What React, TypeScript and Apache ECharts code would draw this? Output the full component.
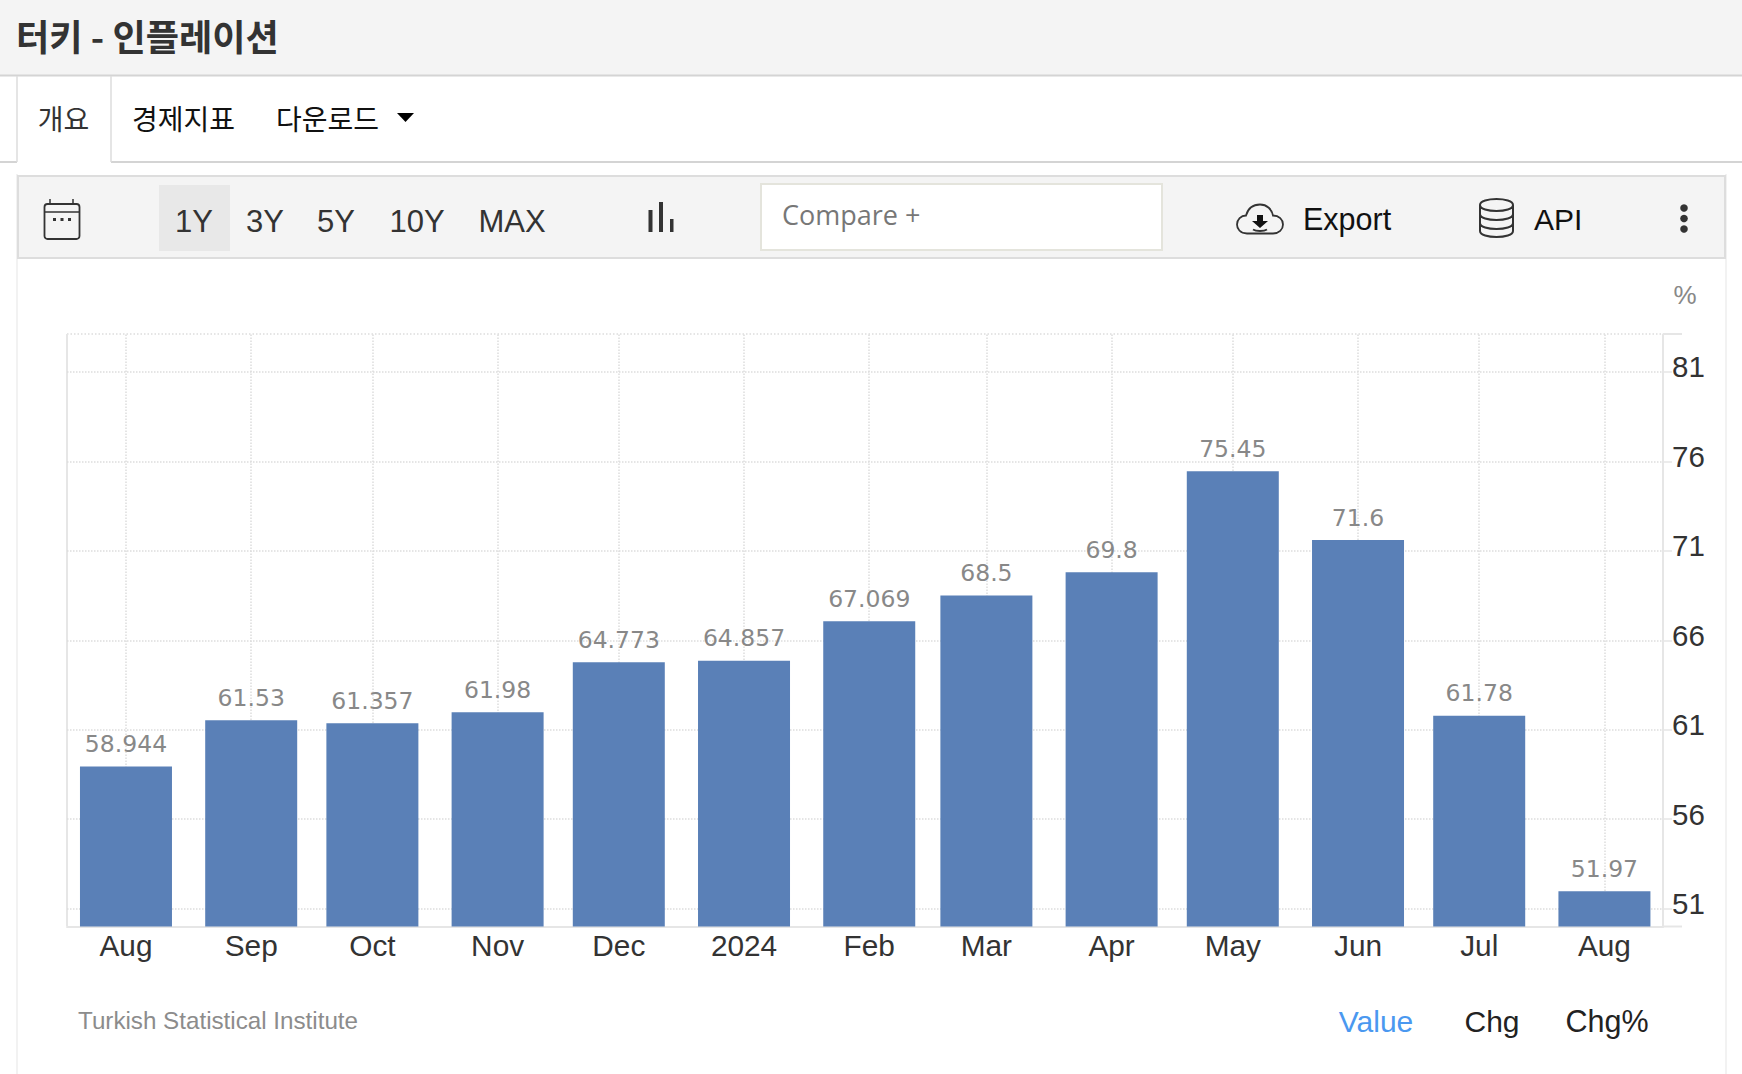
import React, { useEffect, useRef } from "react";
import * as echarts from "echarts";

const pointDates = [
  "2023-08-01", "2023-09-01", "2023-10-01", "2023-11-01", "2023-12-01", "2024-01-01", "2024-02-01",
  "2024-03-01", "2024-04-01", "2024-05-01", "2024-06-01", "2024-07-01", "2024-08-01",
];
const inflation = [58.944, 61.53, 61.357, 61.98, 64.773, 64.857, 67.069, 68.5, 69.8, 75.45, 71.6, 61.78, 51.97];
const xTickLabels = ["Aug", "Sep", "Oct", "Nov", "Dec", "2024", "Feb", "Mar", "Apr", "May", "Jun", "Jul", "Aug"];
const yTickValues = [51, 56, 61, 66, 71, 76, 81];
const rangeButtons = ["1Y", "3Y", "5Y", "10Y", "MAX"];
const rangeCentres = [194, 265, 336, 417, 512];

const DAY = 86400000;
const toDays = (d: string) => Date.parse(d + "T00:00:00Z") / DAY;
const days = pointDates.map(toDays);

const SANS = "Liberation Sans";
const KR = "Noto Sans CJK KR";

echarts.graphic.registerShape(
  "cloudIcon",
  echarts.graphic.extendPath(
    "M11 30 C4 30 1 25 1 21 C1 16 5 12 10 12 C12 5 17 1 24 1 C31 1 36 6 37 12 C43 12 47 16 47 21 C47 26 43 30 37 30 Z M17 26 C20 28 28 28 31 26",
    {}
  )
);
echarts.graphic.registerShape(
  "dbIcon",
  echarts.graphic.extendPath(
    "M1 7 C1 -1 34 -1 34 7 C34 15 1 15 1 7 Z M1 7 L1 33 C1 41 34 41 34 33 L34 7 M1 16 C1 24 34 24 34 16 M1 25 C1 33 34 33 34 25",
    {}
  )
);

const txt = (text: string, x: number, y: number, fontSize: number, fill: string, opts: any = {}) => ({
  type: "text",
  x,
  y,
  silent: true,
  style: {
    text,
    fill,
    fontSize,
    fontFamily: opts.fontFamily || SANS,
    fontWeight: opts.fontWeight || "normal",
    align: opts.align || "center",
    verticalAlign: "middle",
    textAlign: opts.align || "center",
    textVerticalAlign: "middle",
  },
});
const box = (x: number, y: number, width: number, height: number, fill: string, stroke?: string, lineWidth = 0, r = 0) => ({
  type: "rect",
  silent: true,
  shape: { x, y, width, height, r },
  style: { fill, stroke: stroke || "none", lineWidth },
});
const seg = (x1: number, y1: number, x2: number, y2: number, stroke: string, lineWidth = 2, lineDash?: any) => ({
  type: "line",
  silent: true,
  shape: { x1, y1, x2, y2 },
  style: { stroke, lineWidth, lineDash },
});

function buildOption() {
  const pageGraphics: any[] = [
    box(0, 0, 1742, 75, "#f4f4f4"),
    seg(0, 75.5, 1742, 75.5, "#d4d4d4"),
    txt("터키 - 인플레이션", 16, 35, 36.2, "#333333", { align: "left", fontFamily: KR, fontWeight: "bold" }),

    seg(0, 162, 17, 162, "#d4d4d4"),
    seg(111, 162, 1742, 162, "#d4d4d4"),
    seg(17, 76, 17, 162, "#dddddd", 1.5),
    seg(111, 76, 111, 162, "#dddddd", 1.5),
    txt("개요", 63.5, 118, 28, "#333333", { fontFamily: KR }),
    txt("경제지표", 183.5, 118, 28, "#111111", { fontFamily: KR }),
    txt("다운로드", 327.5, 118, 28, "#111111", { fontFamily: KR }),
    { type: "polygon", silent: true, shape: { points: [[397, 113], [414, 113], [405.5, 122]] }, style: { fill: "#000000" } },

    seg(17, 174, 17, 1074, "#f2f2f2"),
    seg(1726, 174, 1726, 1074, "#f2f2f2"),
    box(18, 176, 1707, 82, "#f4f4f4", "#dddddd", 2),

    box(44.5, 204, 35, 35, "none", "#333333", 1.8, 3),
    seg(44.5, 212, 79.5, 212, "#333333", 1.5),
    seg(50, 199, 50, 204, "#333333", 1.5),
    seg(73, 199, 73, 204, "#333333", 1.5),
    box(53, 218, 3, 3, "#333333"),
    box(60.5, 218, 3, 3, "#333333"),
    box(68, 218, 3, 3, "#333333"),

    box(159, 185, 71, 66, "#e8e8e8"),
    ...rangeButtons.map((t, i) => txt(t, rangeCentres[i], 221, 31, "#333333")),

    box(648.5, 210, 4, 22, "#333333"),
    box(659, 202, 4, 30, "#333333"),
    box(670, 219, 3.5, 13, "#333333"),

    box(761, 184, 401, 66, "#ffffff", "#e4e4dc", 2),
    txt("Compare +", 782, 214, 27, "#777777", { align: "left", fontFamily: "Open Sans" }),

    { type: "cloudIcon", x: 1236, y: 203.5, silent: true, style: { fill: "none", stroke: "#333333", lineWidth: 1.8 } },
    { type: "polygon", silent: true, shape: { points: [[1257, 215], [1263, 215], [1263, 221], [1268, 221], [1260, 228], [1252, 221], [1257, 221]] }, style: { fill: "#111111" } },
    txt("Export", 1303, 219, 30.5, "#111111", { align: "left" }),
    { type: "dbIcon", x: 1479, y: 198, silent: true, style: { fill: "none", stroke: "#333333", lineWidth: 2 } },
    txt("API", 1534, 219, 30, "#111111", { align: "left" }),
    { type: "circle", silent: true, shape: { cx: 1684, cy: 208, r: 3.8 }, style: { fill: "#333333" } },
    { type: "circle", silent: true, shape: { cx: 1684, cy: 218.5, r: 3.8 }, style: { fill: "#333333" } },
    { type: "circle", silent: true, shape: { cx: 1684, cy: 229, r: 3.8 }, style: { fill: "#333333" } },

    txt("%", 1685, 295, 26, "#888888"),

    seg(67, 334, 1663, 334, "#dddddd", 1.5, [1.5, 2]),
    seg(1663, 334, 1682, 334, "#e6e6e6"),
    seg(67, 334, 67, 926, "#e6e6e6"),
    seg(1663, 926.5, 1682, 926.5, "#e6e6e6"),

    txt("Turkish Statistical Institute", 78, 1020, 24.2, "#8c8c8c", { align: "left" }),
    txt("Value", 1376, 1021, 30, "#4a98f0"),
    txt("Chg", 1492, 1021, 30, "#222222"),
    txt("Chg%", 1607, 1021, 30.5, "#222222"),
  ];

  const dotted = { color: "#dddddd", type: "dotted", width: 1.5 };

  return {
    animation: false,
    backgroundColor: "#ffffff",
    grid: { left: 67, right: 79, top: 334.5, bottom: 147.5, containLabel: false },
    xAxis: {
      type: "value",
      scale: true,
      min: days[0] - 14.6,
      max: days[days.length - 1] + 14.5,
      axisLine: { show: true, onZero: false, lineStyle: { color: "#e6e6e6", width: 2 } },
      axisTick: { show: false, customValues: days },
      splitLine: { show: true, lineStyle: dotted },
      axisLabel: {
        customValues: days,
        color: "#333333",
        fontFamily: SANS,
        fontSize: 29.8,
        margin: 4,
        hideOverlap: false,
        showMinLabel: true,
        showMaxLabel: true,
        formatter: (v: number) => {
          const i = days.indexOf(v);
          return i >= 0 ? xTickLabels[i] : "";
        },
      },
    },
    yAxis: {
      type: "value",
      position: "right",
      min: 50,
      max: 83.09,
      axisLine: { show: true, onZero: false, lineStyle: { color: "#e6e6e6", width: 2 } },
      axisTick: { show: true, length: 9, customValues: yTickValues, lineStyle: { color: "#e6e6e6", width: 1.5 } },
      splitLine: { show: true, lineStyle: dotted },
      axisLabel: {
        customValues: yTickValues,
        color: "#333333",
        fontFamily: SANS,
        fontSize: 29.5,
        margin: 9,
        verticalAlign: "bottom",
        lineHeight: 10,
        hideOverlap: false,
      },
    },
    series: [
      {
        type: "bar",
        barWidth: 92,
        data: days.map((t, i) => [t, inflation[i]]),
        itemStyle: { color: "#5a80b7" },
        label: {
          show: true,
          position: "top",
          distance: 10.5,
          color: "#888888",
          fontFamily: "DejaVu Sans",
          fontSize: 23.5,
          formatter: (p: any) => String(p.value[1]),
        },
      },
    ],
    graphic: pageGraphics,
  };
}

export default function App() {
  const ref = useRef<HTMLDivElement>(null);
  useEffect(() => {
    document.body.style.margin = "0";
    const chart = echarts.init(ref.current!, undefined, { renderer: "svg" });
    chart.setOption(buildOption() as any);
    return () => chart.dispose();
  }, []);
  return <div ref={ref} style={{ width: 1742, height: 1074 }} />;
}
